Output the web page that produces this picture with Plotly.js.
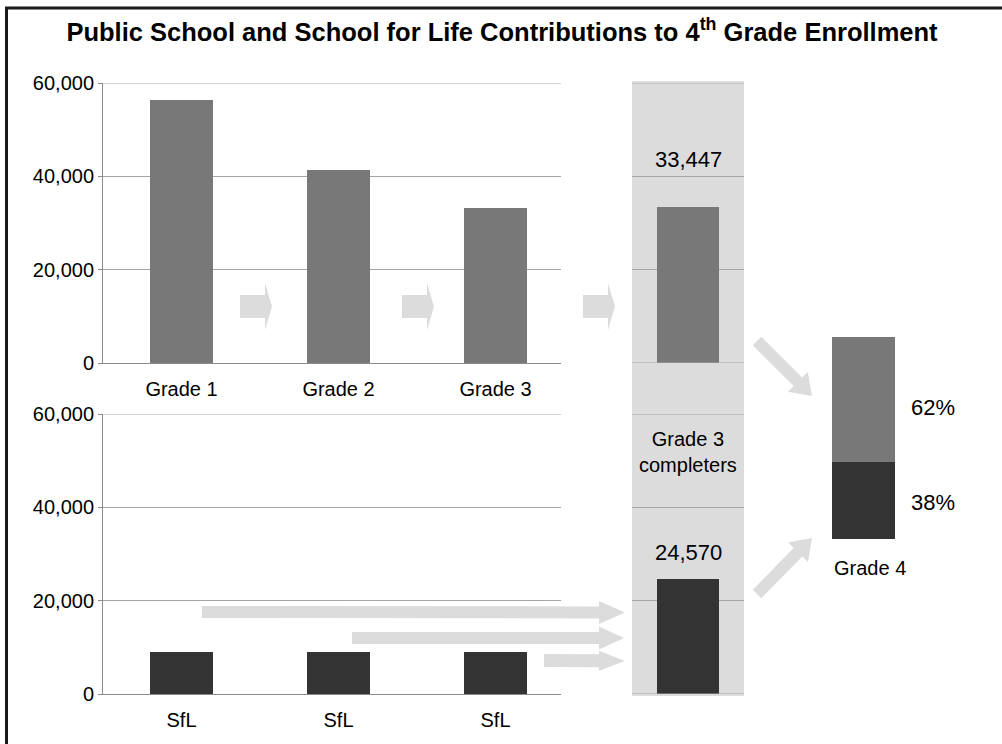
<!DOCTYPE html>
<html><head><meta charset="utf-8">
<script src="https://cdn.plot.ly/plotly-3.0.1.min.js"></script>
<style>html,body{margin:0;padding:0;background:#fff}#chart{width:1002px;height:744px}</style>
</head><body><div id="chart"></div>
<script>
// ---- data ----
const gradeLabels = ["Grade 1", "Grade 2", "Grade 3"];
const publicEnroll = [56300, 41400, 33200];
const sflLabels = ["SfL", "SfL", "SfL"];
const sflEnroll = [9000, 9000, 9000];
const completerLabel = "Grade 3<br>completers";
const publicCompleters = [33447];
const sflCompleters = [24570];
const grade4Label = "Grade 4";
const grade4Public = [62];
const grade4Sfl = [38];
const yTicks = [0, 20000, 40000, 60000];

// ---- helpers (pixel -> paper) ----
const W = 1002, H = 744;
const px = x => x / W;
const py = y => 1 - y / H;
const GRAY = '#787878', DARK = '#333333', LIGHT = '#dcdcdc', GRID = '#a6a6a6', AXIS = '#8c8c8c';
const FONT = 'Liberation Sans, Arial, sans-serif';

function arrow(x0, y0, x1, y1, bw, hw, hl) {
  const dx = x1 - x0, dy = y1 - y0, L = Math.hypot(dx, dy);
  const ux = dx / L, uy = dy / L, nx = -uy, ny = ux;
  const nkx = x1 - ux * hl, nky = y1 - uy * hl;
  const pts = [
    [x0 + nx * bw / 2, y0 + ny * bw / 2],
    [nkx + nx * bw / 2, nky + ny * bw / 2],
    [nkx + nx * hw / 2, nky + ny * hw / 2],
    [x1, y1],
    [nkx - nx * hw / 2, nky - ny * hw / 2],
    [nkx - nx * bw / 2, nky - ny * bw / 2],
    [x0 - nx * bw / 2, y0 - ny * bw / 2]
  ];
  const path = 'M' + pts.map(p => px(p[0]).toFixed(5) + ',' + py(p[1]).toFixed(5)).join('L') + 'Z';
  return {type: 'path', xref: 'paper', yref: 'paper', path: path, fillcolor: LIGHT, line: {width: 0}, layer: 'above'};
}
// grid line across an x axis domain at a data value of a y axis
function gridLine(xa, ya, v) {
  return {type: 'line', xref: xa + ' domain', yref: ya, x0: 0, x1: 1, y0: v, y1: v, line: {color: GRID, width: 1}, layer: 'above'};
}

const xTop = [px(103), px(561)];
const xBand = [px(632), px(744)];
const yTopDom = [py(363), py(83)];
const yBotDom = [py(694), py(414)];

const idx = gradeLabels.map((_, i) => i);
const yMax = yTicks[yTicks.length - 1];

const traces = [
  {type: 'bar', x: idx, y: publicEnroll, xaxis: 'x', yaxis: 'y', width: 0.4, marker: {color: GRAY}, hoverinfo: 'y'},
  {type: 'bar', x: idx, y: sflEnroll, xaxis: 'x2', yaxis: 'y2', width: 0.4, marker: {color: DARK}, hoverinfo: 'y'},
  {type: 'bar', x: [0], y: publicCompleters, xaxis: 'x3', yaxis: 'y', width: 0.554, marker: {color: GRAY}, hoverinfo: 'y'},
  {type: 'bar', x: [0], y: sflCompleters, xaxis: 'x4', yaxis: 'y2', width: 0.554, marker: {color: DARK}, hoverinfo: 'y'},
  {type: 'bar', x: [0], y: grade4Sfl, xaxis: 'x5', yaxis: 'y5', width: 0.496, marker: {color: DARK}, hoverinfo: 'y'},
  {type: 'bar', x: [0], y: grade4Public, xaxis: 'x5', yaxis: 'y5', width: 0.496, marker: {color: GRAY}, hoverinfo: 'y'}
];

const yAx = (dom, anchor) => ({
  domain: dom, anchor: anchor, range: [0, yMax], tickvals: yTicks, tickformat: ',',
  showgrid: true, gridcolor: GRID, gridwidth: 1, zeroline: false,
  showline: true, linecolor: AXIS, linewidth: 1, ticks: 'outside', ticklen: 4, tickcolor: AXIS,
  tickfont: {size: 20, color: '#000', family: FONT}, fixedrange: true
});
const xAx = (dom, anchor, labels) => ({
  domain: dom, anchor: anchor, range: [-0.5, 2.417], tickvals: idx, ticktext: labels,
  showgrid: false, zeroline: false, showline: true, linecolor: AXIS, linewidth: 1, ticks: '',
  ticklabelstandoff: 8, tickfont: {size: 20, color: '#000', family: FONT}, fixedrange: true
});
const hidX = (dom, anchor) => ({domain: dom, anchor: anchor, range: [-0.5, 0.5], visible: false, showgrid: false, zeroline: false, fixedrange: true});

const layout = {
  width: W, height: H, margin: {l: 0, r: 0, t: 0, b: 0},
  paper_bgcolor: '#ffffff', plot_bgcolor: 'rgba(0,0,0,0)',
  showlegend: false, barmode: 'stack',
  font: {family: FONT, color: '#000'},
  title: {text: 'Public School and School for Life Contributions to 4<sup>th</sup> Grade Enrollment',
    x: px(502), xanchor: 'center', y: py(32), yanchor: 'middle', yref: 'paper',
    font: {family: FONT, size: 25.5, color: '#000', weight: 'bold'}},
  xaxis: xAx(xTop, 'y', gradeLabels),
  yaxis: yAx(yTopDom, 'x'),
  xaxis2: xAx(xTop, 'y2', sflLabels),
  yaxis2: yAx(yBotDom, 'x2'),
  xaxis3: hidX(xBand, 'y'),
  xaxis4: hidX(xBand, 'y2'),
  xaxis5: hidX([px(800), px(927)], 'y5'),
  yaxis5: {domain: [py(539), py(337)], anchor: 'x5', range: [0, 100], visible: false, showgrid: false, zeroline: false, fixedrange: true},
  shapes: [
    {type: 'rect', xref: 'paper', yref: 'paper', x0: px(632), x1: px(744), y0: py(696), y1: py(81), fillcolor: LIGHT, line: {width: 0}, layer: 'below'},
    {type: 'rect', xref: 'paper', yref: 'paper', x0: px(6.5), x1: px(1030), y0: py(770), y1: py(8), fillcolor: 'rgba(0,0,0,0)', line: {width: 3, color: '#1a1a1a'}, layer: 'above'},
    gridLine('x', 'y', yMax),
    gridLine('x3', 'y', yMax),
    gridLine('x3', 'y', 0),
    gridLine('x2', 'y2', yMax),
    gridLine('x4', 'y2', yMax),
    gridLine('x4', 'y2', 0),
    arrow(240, 306.5, 272, 306.5, 23, 47, 7),
    arrow(402, 306.5, 434, 306.5, 23, 47, 7),
    arrow(583, 306.5, 615, 306.5, 23, 47, 7),
    arrow(757, 341, 812, 396, 12, 28, 20),
    arrow(757, 594, 812, 538, 12, 28, 20),
    arrow(202, 612, 625, 612.5, 12, 23, 26),
    arrow(352, 638, 624, 638, 12, 23, 25),
    arrow(544, 660.5, 625, 661, 13, 20, 26)
  ],
  annotations: [
    {xref: 'paper', yref: 'paper', x: px(688), y: py(159), text: publicCompleters[0].toLocaleString('en-US'), showarrow: false, font: {size: 22, color: '#000'}, xanchor: 'center', yanchor: 'middle'},
    {xref: 'paper', yref: 'paper', x: px(688), y: py(452.5), text: completerLabel, showarrow: false, font: {size: 20, color: '#000'}, xanchor: 'center', yanchor: 'middle'},
    {xref: 'paper', yref: 'paper', x: px(688), y: py(552), text: sflCompleters[0].toLocaleString('en-US'), showarrow: false, font: {size: 22, color: '#000'}, xanchor: 'center', yanchor: 'middle'},
    {xref: 'paper', yref: 'paper', x: px(933), y: py(408), text: grade4Public[0] + '%', showarrow: false, font: {size: 22, color: '#000'}, xanchor: 'center', yanchor: 'middle'},
    {xref: 'paper', yref: 'paper', x: px(933), y: py(503), text: grade4Sfl[0] + '%', showarrow: false, font: {size: 22, color: '#000'}, xanchor: 'center', yanchor: 'middle'},
    {xref: 'paper', yref: 'paper', x: px(870), y: py(568), text: grade4Label, showarrow: false, font: {size: 20, color: '#000'}, xanchor: 'center', yanchor: 'middle'}
  ]
};

Plotly.newPlot('chart', traces, layout, {displayModeBar: false, staticPlot: true});
</script>
</body></html>
